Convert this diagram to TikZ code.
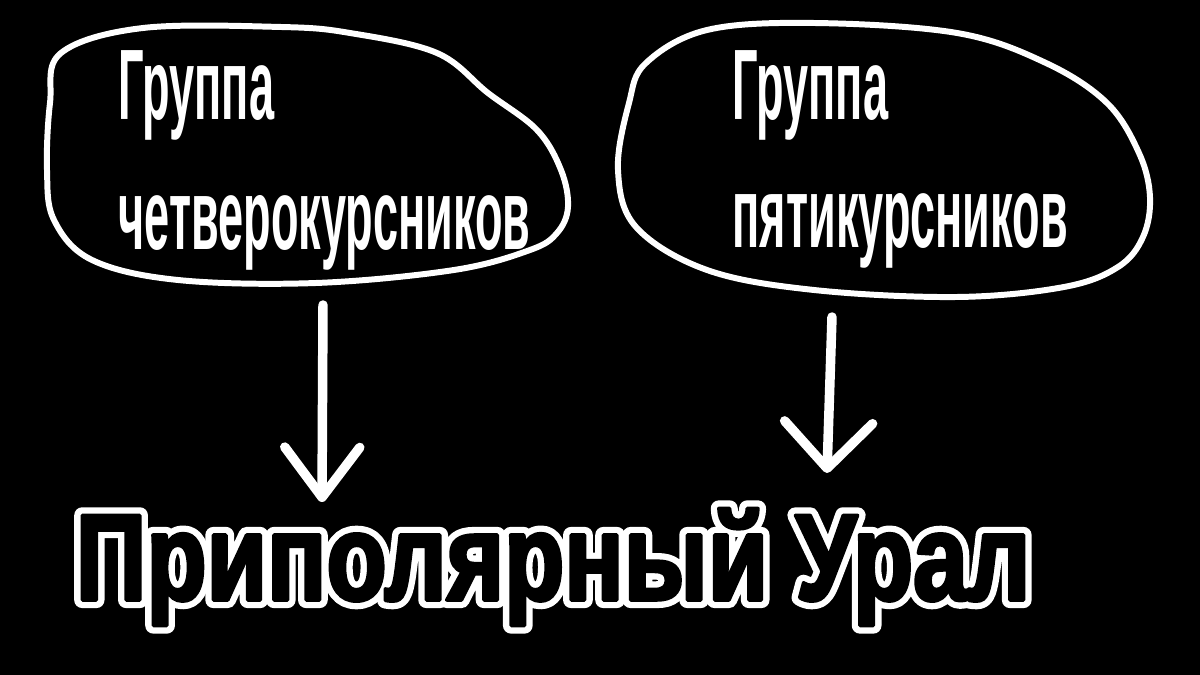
\documentclass[tikz,border=0pt]{standalone}
\usepackage{fontspec}
\usepackage{tikz}
\usetikzlibrary{arrows.meta,calc,positioning}
\newfontfamily\narrowfont[FakeStretch=0.45]{Liberation Sans}
\newfontfamily\titlefont[FakeStretch=0.8]{Liberation Sans}
% stroke / fill the glyphs (text render mode)
\newcommand{\rimtext}[1]{\special{pdf:literal direct 1 j 4.6 w 1 1 1 RG 1 Tr}#1\special{pdf:literal direct 0 Tr}}
\newcommand{\boldtext}[1]{\special{pdf:literal direct 1 j 1.0 w 0 0 0 RG 2 Tr}#1\special{pdf:literal direct 0 Tr}}

\begin{document}
\begin{tikzpicture}
    \tikzstyle{blob}=[draw=white,line width=1.7pt,line join=round]
    \tikzstyle{grp}=[text=white,inner sep=0,anchor=base west,%
      font=\narrowfont\bfseries\fontsize{28.5}{34}\selectfont]
    \tikzstyle{ural}=[inner sep=0,anchor=base west,%
      font=\titlefont\bfseries\fontsize{35}{40}\selectfont]
    \tikzstyle{arr}=[draw=white,line width=2.7pt,line cap=round]

    \fill[black] (0,0) rectangle (12,6.75);
    \useasboundingbox (0,0) rectangle (12,6.75);

    % hand drawn outlines
    \draw[blob] plot[smooth cycle,tension=0.6] coordinates {(0.61,6.22) (1.43,6.47)
      (2.81,6.48) (3.50,6.42) (4.37,6.22) (4.88,5.82) (5.37,5.45) (5.61,5.05)
      (5.68,4.68) (5.57,4.42) (5.30,4.25) (4.54,4.05) (3.16,3.92) (1.78,3.95)
      (0.92,4.15) (0.54,4.55) (0.47,5.05) (0.50,5.72)};
    \draw[blob] plot[smooth cycle,tension=0.6] coordinates {(6.46,6.12) (7.07,6.45)
      (8.14,6.52) (9.57,6.42) (10.46,6.12) (11.07,5.72) (11.39,5.22) (11.50,4.78)
      (11.43,4.38) (11.18,4.08) (10.64,3.88) (9.57,3.78) (8.14,3.85) (7.07,4.05)
      (6.36,4.48) (6.18,5.05) (6.29,5.72)};

    \node[grp] (G4) at (1.18,5.55) {Группа};
    \node[grp] (G4b) at (1.18,4.25) {четверокурсников};
    \node[grp] (G5) at (7.32,5.55) {Группа};
    \node[grp] (G5b) at (7.32,4.27) {пятикурсников};

    % title: white rim under black letters
    \coordinate (U) at (0.75,0.75);
    \node[ural,text=white] (Trim) at (U) {\rimtext{Приполярный Урал}};
    \node[ural,text=black] (T) at (U) {\boldtext{Приполярный Урал}};

    \coordinate (S4) at (3.23,3.70);
    \coordinate (E4) at (3.22,1.73);
    \coordinate (S5) at (8.32,3.58);
    \coordinate (E5) at (8.27,2.02);

    \draw[arr,-{Straight Barb[length=5mm,width=7.5mm,round]}] (S4) -- (E4);
    \draw[arr,-{Straight Barb[length=4.6mm,width=8.8mm,round]}] (S5) -- (E5);
\end{tikzpicture}
\end{document}
